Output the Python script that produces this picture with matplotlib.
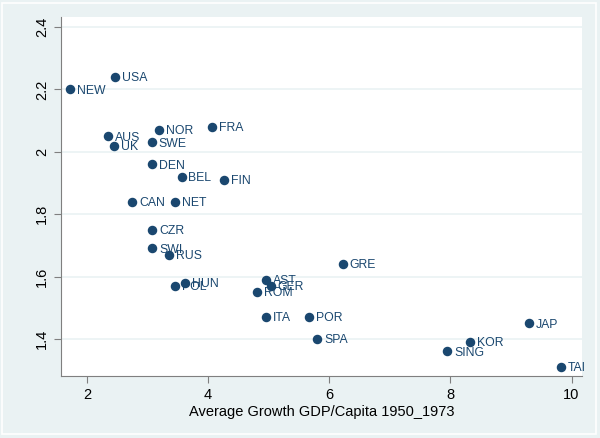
import matplotlib
matplotlib.use("Agg")
import matplotlib.pyplot as plt
from matplotlib.patches import Rectangle

plt.rcParams['font.family'] = ['Liberation Sans', 'DejaVu Sans']

# Country codes and values
countries = ["NEW", "USA", "AUS", "UK", "NOR", "SWE", "FRA", "DEN", "BEL", "FIN",
             "CAN", "NET", "CZR", "SWI", "RUS", "HUN", "POL", "AST", "GER", "ROM",
             "ITA", "GRE", "POR", "SPA", "SING", "KOR", "JAP", "TAI"]
growth = [1.72, 2.46, 2.34, 2.45, 3.19, 3.07, 4.06, 3.08, 3.56, 4.26,
          2.75, 3.46, 3.08, 3.08, 3.36, 3.61, 3.46, 4.95, 5.03, 4.81,
          4.95, 6.22, 5.67, 5.80, 7.95, 8.33, 9.30, 9.82]
ratio = [2.20, 2.24, 2.05, 2.02, 2.07, 2.03, 2.08, 1.96, 1.92, 1.91,
         1.84, 1.84, 1.75, 1.69, 1.67, 1.58, 1.57, 1.59, 1.57, 1.55,
         1.47, 1.64, 1.47, 1.40, 1.36, 1.39, 1.45, 1.31]

xticks = [2, 4, 6, 8, 10]
yticks = [1.4, 1.6, 1.8, 2.0, 2.2, 2.4]
ytick_labels = ["1.4", "1.6", "1.8", "2", "2.2", "2.4"]

navy = "#1a476f"
bg = "#eaf2f3"

fig = plt.figure(figsize=(6, 4.38), dpi=100, facecolor=bg)
fig.patches.append(Rectangle((0.004, 0.008), 0.99, 0.985, transform=fig.transFigure,
                             fill=False, edgecolor="white", linewidth=1.2))
ax = fig.add_axes([0.1017, 0.1416, 0.868, 0.8194])
ax.set_facecolor("white")

ax.scatter(growth, ratio, s=34, color=navy, zorder=3)
for name, x, y in zip(countries, growth, ratio):
    ax.annotate(name, (x, y), xytext=(5, -1), textcoords="offset points",
                va="center", ha="left", fontsize=8.8, color=navy, zorder=4)

ax.set_xlim(1.57, 10.17)
ax.set_ylim(1.281, 2.432)
ax.set_xticks(xticks)
ax.set_yticks(yticks)
ax.set_yticklabels(ytick_labels, rotation=90, va="center")
ax.tick_params(axis="both", colors="#7f7f7f", labelcolor="black", labelsize=10.5,
               length=5, width=0.8, direction="out")
ax.yaxis.grid(True, color=bg, linewidth=1.2)
ax.set_axisbelow(True)

for side in ["top", "right"]:
    ax.spines[side].set_visible(False)
for side in ["left", "bottom"]:
    ax.spines[side].set_color("#7f7f7f")
    ax.spines[side].set_linewidth(0.8)

ax.set_xlabel("Average Growth GDP/Capita 1950_1973", fontsize=10.5, labelpad=2)

fig.savefig("out.png", dpi=100, facecolor=bg)
